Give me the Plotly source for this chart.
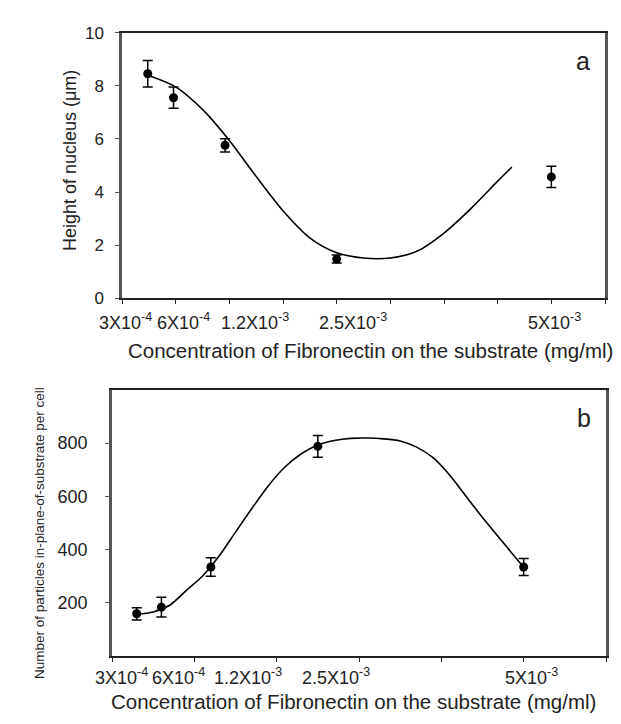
import plotly.graph_objects as go

W, H = 621, 724

# ---- data (x in units of 1e-3 mg/ml) ----
conc = [0.3, 0.6, 1.2, 2.5, 5.0]
conc_labels = ["3X10<sup>-4</sup>", "6X10<sup>-4</sup>", "1.2X10<sup>-3</sup>", "2.5X10<sup>-3</sup>", "5X10<sup>-3</sup>"]

height_a = [8.45, 7.55, 5.76, 1.48, 4.57]
height_err = [0.5, 0.4, 0.25, 0.15, 0.4]
fit_a_x = [0.31, 0.625, 0.94, 1.25, 1.56, 1.875, 2.19, 2.5, 2.81, 3.125, 3.44, 3.75, 4.06, 4.375, 4.54]
fit_a_y = [8.39, 7.96, 7.1, 5.94, 4.6, 3.3, 2.27, 1.72, 1.52, 1.52, 1.78, 2.46, 3.37, 4.41, 4.94]

particles_b = [158, 183, 334, 788, 334]
particles_err = [23, 37, 35, 41, 32]
fit_b_x = [0.3, 0.5, 0.7, 0.9, 1.1, 1.3, 1.5, 1.7, 1.9, 2.1, 2.3, 2.5, 2.7, 2.9, 3.1, 3.3,
           3.5, 3.7, 3.9, 4.1, 4.3, 4.5, 4.7, 4.9, 5.0]
fit_b_y = [156, 165, 190, 245, 300, 375, 465, 555, 640, 710, 760, 793, 810, 818, 819, 816,
           808, 785, 745, 680, 600, 520, 445, 370, 334]

FONT = "Liberation Sans, Arial, sans-serif"
TXT = "#222"

def xd(l, r):
    return [l / W, r / W]

def yd(t, b):
    return [1 - b / H, 1 - t / H]

def py(p):
    return 1 - p / H

fig = go.Figure()

fig.add_trace(go.Scatter(x=fit_a_x, y=fit_a_y, mode="lines",
                         line=dict(color="black", width=1.6, shape="spline", smoothing=0.8),
                         xaxis="x", yaxis="y", hoverinfo="skip"))
fig.add_trace(go.Scatter(x=conc, y=height_a, mode="markers",
                         marker=dict(color="black", size=9),
                         error_y=dict(type="data", array=height_err, color="black", thickness=1.5, width=5),
                         xaxis="x", yaxis="y"))
fig.add_trace(go.Scatter(x=fit_b_x, y=fit_b_y, mode="lines",
                         line=dict(color="black", width=1.6, shape="spline", smoothing=0.8),
                         xaxis="x2", yaxis="y2", hoverinfo="skip"))
fig.add_trace(go.Scatter(x=conc, y=particles_b, mode="markers",
                         marker=dict(color="black", size=9),
                         error_y=dict(type="data", array=particles_err, color="black", thickness=1.5, width=5),
                         xaxis="x2", yaxis="y2"))

xcommon = dict(showgrid=False, zeroline=False, mirror=True, ticks="outside", ticklen=4,
               tickcolor="#222", linecolor="#222", linewidth=2)
ycommon = dict(showgrid=False, zeroline=False, mirror=True, ticks="outside", ticklen=4,
               tickcolor="#555", linecolor="#555", linewidth=2.5)

annotations = []
lab_font = dict(family=FONT, size=18, color=TXT)
shift_a = [-22, 10, 30, 16, 3]
shift_b = [-15, 17, 37, 18, 8]
for xv, txt, s in zip(conc, conc_labels, shift_a):
    annotations.append(dict(x=xv, xref="x", y=py(313), yref="paper", text=txt, showarrow=False,
                            xanchor="center", yanchor="middle", xshift=s, font=lab_font))
for xv, txt, s in zip(conc, conc_labels, shift_b):
    annotations.append(dict(x=xv, xref="x2", y=py(677), yref="paper", text=txt, showarrow=False,
                            xanchor="center", yanchor="middle", xshift=s, font=lab_font))

title_font = dict(family=FONT, size=20.5, color=TXT)
annotations += [
    dict(x=362 / W, y=py(343), text="Concentration of Fibronectin on the substrate (mg/ml)", font=title_font),
    dict(x=345 / W, y=py(703), text="Concentration of Fibronectin on the substrate (mg/ml)", font=title_font),
    dict(x=62 / W, y=py(148), text="Height of nucleus (\u03bcm)", textangle=-90,
         font=dict(family=FONT, size=18, color=TXT)),
    dict(x=31 / W, y=py(530), text="Number of particles in-plane-of-substrate per cell", textangle=-90,
         font=dict(family=FONT, size=13.5, color=TXT)),
    dict(x=575 / W, y=py(45), text="a", font=dict(family=FONT, size=25, color=TXT)),
    dict(x=576 / W, y=py(412), text="b", font=dict(family=FONT, size=25, color=TXT)),
]
for a in annotations[-6:]:
    a.update(xref="paper", yref="paper", showarrow=False, xanchor="center", yanchor="middle")

fig.update_layout(
    width=W, height=H,
    margin=dict(l=0, r=0, t=0, b=0),
    paper_bgcolor="white", plot_bgcolor="white",
    font=dict(family=FONT, color=TXT),
    showlegend=False,
    xaxis=dict(domain=xd(114, 597), range=[0, 5.625], tickmode="linear", tick0=0, dtick=0.625,
               showticklabels=False, anchor="y", **xcommon),
    yaxis=dict(domain=yd(16, 289), range=[0, 10], tickmode="linear", tick0=0, dtick=2,
               tickfont=dict(family=FONT, size=17, color=TXT), ticklabelstandoff=8, anchor="x", **ycommon),
    xaxis2=dict(domain=xd(104, 598), range=[0, 6], tickmode="linear", tick0=0, dtick=1,
                showticklabels=False, anchor="y2", **xcommon),
    yaxis2=dict(domain=yd(383, 656), range=[0, 1000], tickvals=[200, 400, 600, 800],
                tickfont=dict(family=FONT, size=18, color=TXT),
                ticklabelstandoff=14, anchor="x2", **ycommon),
    annotations=annotations,
)

fig.write_html("out.html")
